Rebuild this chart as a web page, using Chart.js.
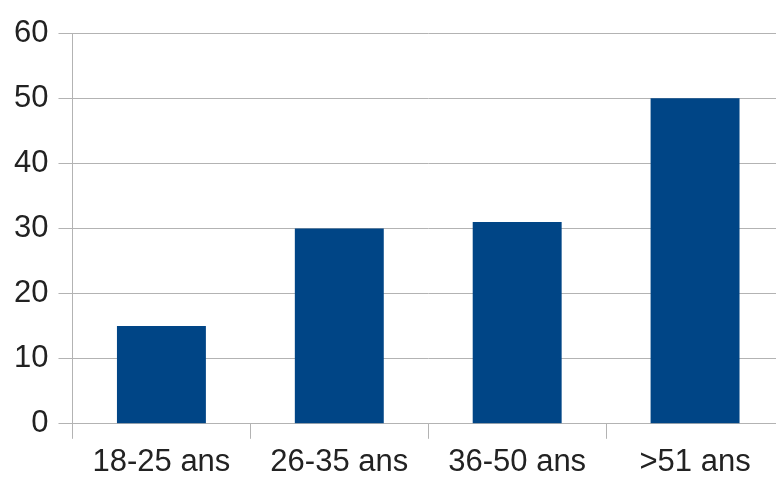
<!DOCTYPE html>
<html>
<head>
<meta charset="utf-8">
<script src="https://cdn.jsdelivr.net/npm/chart.js@4"></script>
<style>
  html, body { margin: 0; padding: 0; background: #fff; overflow: hidden; }
  #wrap { width: 790px; height: 486px; }
</style>
</head>
<body>
<div id="wrap"><canvas id="ageChart"></canvas></div>
<script>
const categories = ['18-25 ans', '26-35 ans', '36-50 ans', '>51 ans'];
const values = [15, 30, 31, 50];
const yTicks = [0, 10, 20, 30, 40, 50, 60];

const gridColor = '#b3b3b3';
const fontSpec = { family: 'Liberation Sans', size: 31 };

const ageChart = new Chart(document.getElementById('ageChart'), {
    type: 'bar',
    data: {
        labels: categories,
        datasets: [{
            data: values,
            backgroundColor: '#004586',
            borderWidth: 0,
            categoryPercentage: 1.0,
            barPercentage: 0.5
        }]
    },
    options: {
        responsive: true,
        maintainAspectRatio: false,
        animation: false,
        layout: { padding: { top: 33, right: 6, left: 4, bottom: 0 } },
        plugins: { legend: { display: false }, tooltip: { enabled: false } },
        scales: {
            x: {
                grid: { offset: true, drawOnChartArea: false, color: gridColor, tickLength: 15 },
                border: { color: gridColor },
                ticks: { color: '#222', font: fontSpec, padding: 5 }
            },
            y: {
                min: yTicks[0],
                max: yTicks[yTicks.length - 1],
                afterBuildTicks: axis => { axis.ticks = yTicks.map(v => ({ value: v })); },
                grid: { color: gridColor, tickLength: 14 },
                border: { color: gridColor },
                ticks: { color: '#222', font: fontSpec, padding: 10 }
            }
        }
    }
});
</script>
</body>
</html>
